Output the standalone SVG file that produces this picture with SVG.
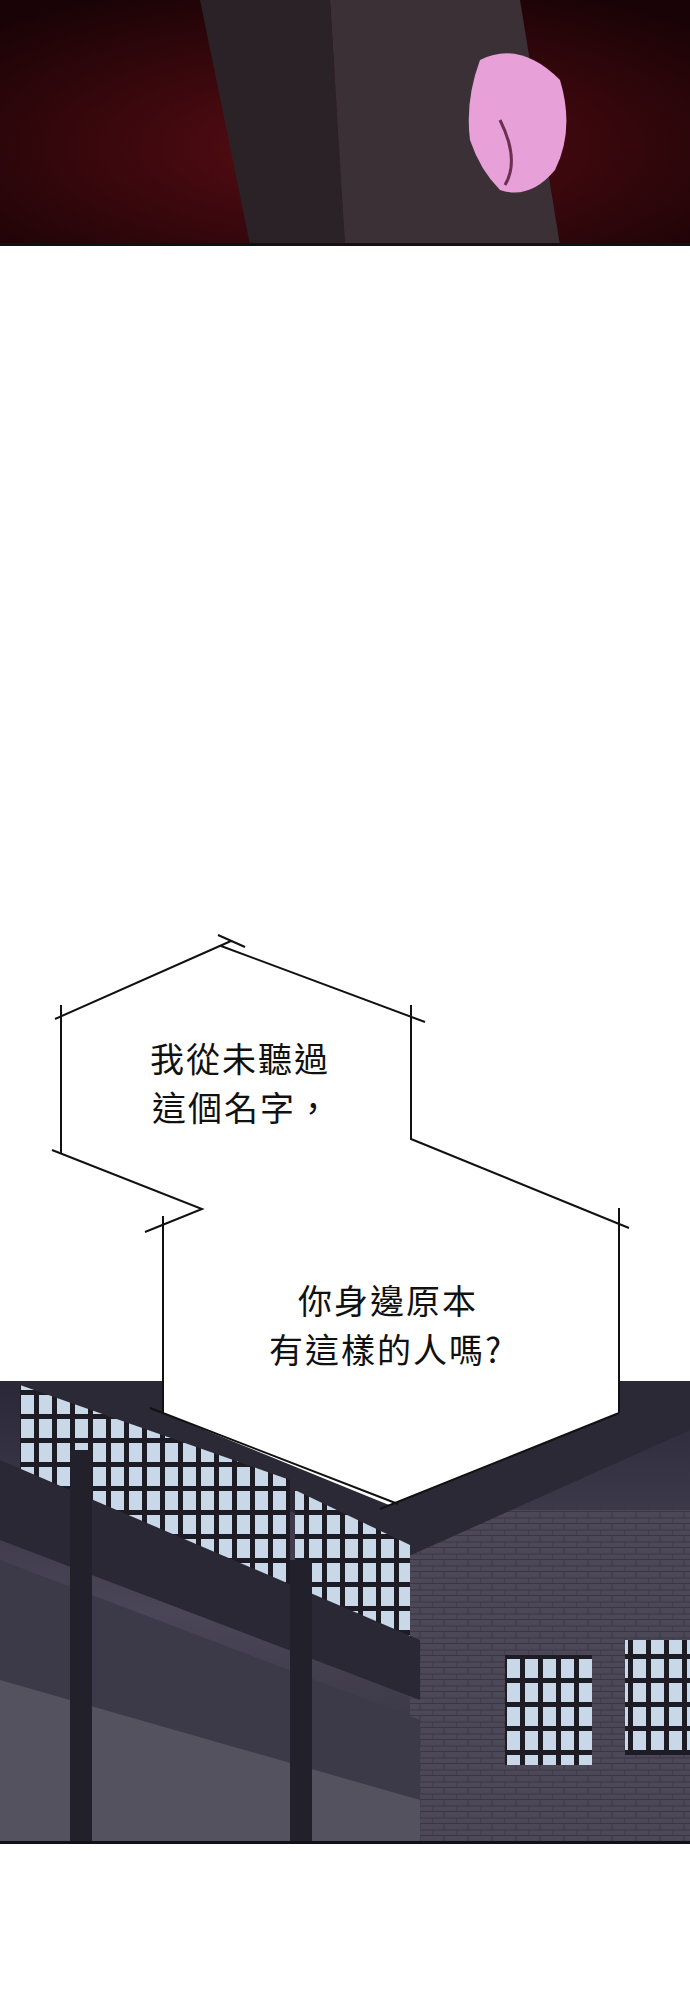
<svg xmlns="http://www.w3.org/2000/svg" width="690" height="2000" viewBox="0 0 690 2000">
<style>
.t{font-family:"Noto Sans CJK TC","Noto Sans CJK SC",sans-serif;font-size:34px;letter-spacing:2px;fill:#111;text-anchor:middle}
.ln{stroke:#111;stroke-width:2;fill:none}
</style>
<defs>
<radialGradient id="red" cx="0.5" cy="0.6" r="0.7">
<stop offset="0" stop-color="#5a0d14"/><stop offset="1" stop-color="#1a0306"/>
</radialGradient>
<linearGradient id="bld" x1="0" y1="0" x2="0" y2="1">
<stop offset="0" stop-color="#2a2838"/><stop offset="0.5" stop-color="#4a4658"/><stop offset="1" stop-color="#2c2a35"/>
</linearGradient>
<pattern id="brick" width="24" height="12" patternUnits="userSpaceOnUse">
<rect width="24" height="12" fill="#4c4858"/>
<path d="M0 11.5H24M12 0V6M0 6H24M0 6V12" stroke="#3a3644" stroke-width="1"/>
</pattern>
<pattern id="grid" width="18" height="24" patternUnits="userSpaceOnUse">
<rect width="18" height="24" fill="#1d1c25"/>
<rect x="3" y="3" width="13" height="19" fill="#c8d8e8"/>
</pattern>
</defs>
<rect width="690" height="2000" fill="#fff"/>
<rect x="0" y="0" width="690" height="245" fill="url(#red)"/>
<path d="M200 0 L250 245 L345 245 L330 0Z" fill="#2a2226"/>
<path d="M330 0 L345 245 L560 245 L520 0Z" fill="#3a3036"/>
<path d="M480 60 Q520 40 560 80 Q575 130 555 170 Q530 200 500 190 Q480 170 470 140 Q465 100 480 60Z" fill="#e8a0d8"/>
<path d="M500 120 Q520 160 505 185" stroke="#6a3050" stroke-width="3" fill="none"/>
<rect x="0" y="243" width="690" height="3" fill="#111"/>
<g id="scene">
<rect x="0" y="1381" width="690" height="462" fill="url(#bld)"/>
<rect x="410" y="1510" width="280" height="333" fill="url(#brick)"/>
<path d="M0 1381 L400 1560 L690 1430 L690 1381Z" fill="#2c2936"/>
<path d="M20 1385 L290 1480 L290 1640 L20 1540Z" fill="url(#grid)"/>
<path d="M295 1490 L410 1545 L410 1690 L295 1640Z" fill="url(#grid)"/>
<path d="M0 1460 L0 1540 L420 1700 L420 1640Z" fill="#2a2834"/>
<path d="M0 1560 L420 1720 L420 1843 L0 1843Z" fill="#3c3a48"/>
<path d="M0 1680 L420 1800 L420 1843 L0 1843Z" fill="#55525f"/>
<rect x="70" y="1450" width="22" height="393" fill="#22202a"/>
<rect x="290" y="1560" width="22" height="283" fill="#22202a"/>
<rect x="505" y="1655" width="87" height="110" fill="url(#grid)"/>
<rect x="625" y="1640" width="65" height="115" fill="url(#grid)"/>
<rect x="0" y="1841" width="690" height="3" fill="#111"/>
</g>
<g id="bubble">
<path d="M231 941 L411 1016 L411 1139 L619 1224 L619 1413 L389 1505 L163 1413 L163 1224 L202 1209 L61 1154 L61 1016Z" fill="#fff"/>
<path class="ln" d="M218 935 L245 947 M231 941 L55 1019 M221 946 L425 1022 M411 1005 L411 1139 L629 1228 M619 1208 L619 1413 M619 1413 L380 1509 M398 1504 L150 1408 M163 1413 L163 1216 M145 1232 L202 1209 L52 1150 M61 1154 L61 1005"/>
<text class="t" x="240" y="1072">我從未聽過</text>
<text class="t" x="242" y="1121">這個名字，</text>
<text class="t" x="388" y="1314">你身邊原本</text>
<text class="t" x="386" y="1363">有這樣的人嗎?</text>
</g>
</svg>
